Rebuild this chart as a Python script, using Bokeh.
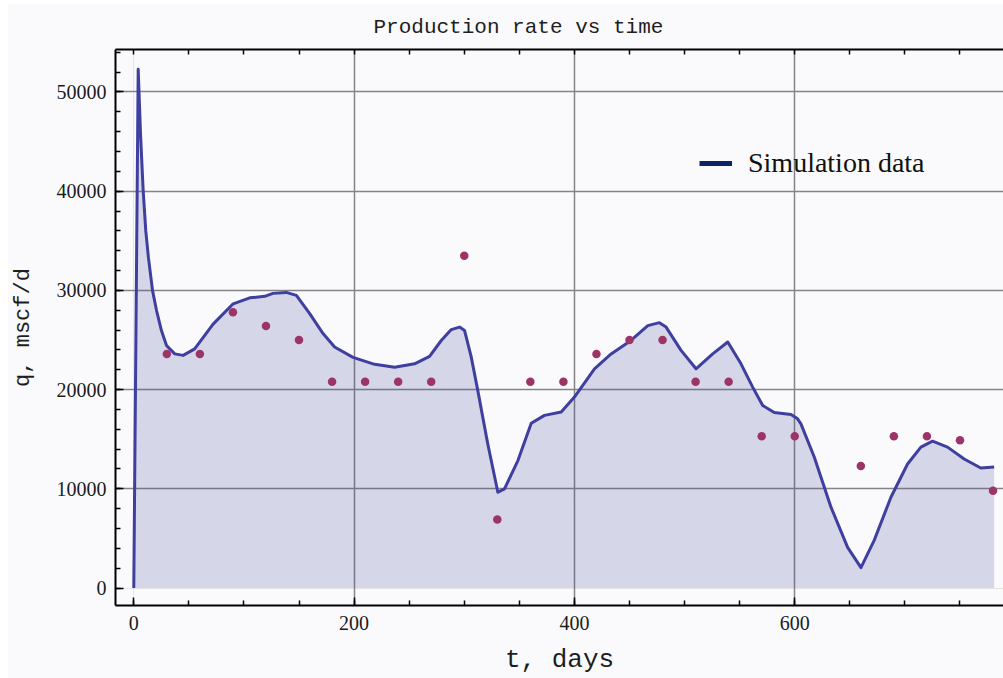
from bokeh.plotting import figure
from bokeh.models import (ColumnDataSource, LinearAxis, SingleIntervalTicker, FixedTicker,
                          Grid, Legend, LegendItem, Range1d, Spacer)
from bokeh.layouts import column, row
from bokeh.embed import file_html
from bokeh.resources import INLINE

# Simulated production rate (days, mscf/d)
sim_t = [0, 4.0, 6.1, 8.5, 10.9, 13.3, 17.0, 20.6, 25.1, 29.7, 37.2, 44.8, 55.3, 72.0, 90.2,
         105.3, 118.9, 126.3, 138.3, 147.6, 159.7, 171.8, 182.3, 199.0, 218.6, 236.8,
         254.9, 268.5, 279.1, 288.2, 295.7, 300.3, 306.3, 312.3, 321.3, 330.5, 336.5,
         348.7, 360.8, 372.8, 388.0, 400.0, 418.2, 433.3, 451.3, 466.6, 477.1, 483.2,
         496.8, 510.4, 525.5, 539.2, 551.2, 561.8, 570.9, 581.4, 596.6, 602.6, 605.6,
         617.7, 632.9, 648.0, 660.1, 672.1, 687.3, 702.4, 714.5, 725.1, 738.7, 753.8,
         768.9, 781.0]
sim_q = [0, 52300, 45800, 40100, 36000, 33300, 30000, 28000, 25950, 24450, 23600, 23450,
         24100, 26600, 28650, 29250, 29400, 29700, 29800, 29500, 27650, 25650, 24300,
         23250, 22550, 22250, 22600, 23350, 24950, 26050, 26300, 25950, 23300, 19900,
         14550, 9650, 10000, 12850, 16600, 17400, 17750, 19250, 22100, 23600, 24950,
         26450, 26750, 26300, 23950, 22100, 23600, 24800, 22600, 20250, 18400, 17700,
         17500, 17050, 16550, 13200, 8150, 4100, 2050, 4800, 9150, 12500, 14200, 14800,
         14200, 13000, 12100, 12200]

# Measured production rate (days, mscf/d)
obs_t = [30, 60, 90, 120, 150, 180, 210, 240, 270, 300, 330, 360, 390, 420, 450, 480,
         510, 540, 570, 600, 660, 690, 720, 750, 780]
obs_q = [23600, 23600, 27800, 26400, 25000, 20800, 20800, 20800, 20800, 33500, 6900,
         20800, 20800, 23600, 25000, 25000, 20800, 20800, 15300, 15300, 12300, 15300,
         15300, 14900, 9800]

x_interval, x_minor_step = 200, 50
y_interval = 10000
x_grid_lines = [200, 400, 600]
y_grid_lines = [10000, 20000, 30000, 40000, 50000]

BG = "#fafafc"
LINE = "#3f3f9f"
DOTS = "#9c3468"

p = figure(width=996, height=675, output_backend="svg", toolbar_location=None,
           title="Production rate vs time",
           x_range=Range1d(-16.6, 789.5), y_range=Range1d(-1764, 54284),
           x_axis_location=None, y_axis_location=None,
           min_border_left=107, min_border_right=0, min_border_top=30, min_border_bottom=73,
           background_fill_color=BG, border_fill_color=BG, outline_line_color=None)

p.title.text_font = "Liberation Mono"
p.title.text_font_size = "21px"
p.title.text_font_style = "normal"
p.title.text_color = "#1e1e1e"
p.title.align = "left"
p.title.offset = 258
p.title.standoff = 21

xt = SingleIntervalTicker(interval=x_interval, num_minor_ticks=x_interval // x_minor_step)
yt = SingleIntervalTicker(interval=y_interval, num_minor_ticks=5)
# top frame edge: tick marks only (major ticks kept outside the visible range, so no labels)
top_ticks = FixedTicker(ticks=[-10 * x_interval],
                        minor_ticks=list(range(0, 800, x_minor_step)))

xaxis = LinearAxis(ticker=xt, axis_label="t, days")
yaxis = LinearAxis(ticker=yt, axis_label="q, mscf/d")
top_axis = LinearAxis(ticker=top_ticks)

for ax in (xaxis, yaxis, top_axis):
    ax.axis_line_color = "black"
    ax.axis_line_width = 2
    ax.major_tick_line_color = "black"
    ax.major_tick_line_width = 1.5
    ax.minor_tick_line_color = "black"
    ax.minor_tick_line_width = 1.5
    ax.major_tick_in = 8
    ax.major_tick_out = 0
    ax.minor_tick_in = 5
    ax.minor_tick_out = 0
    ax.major_label_text_font = "Liberation Serif"
    ax.major_label_text_font_size = "20px"
    ax.major_label_text_color = "#1a1a1a"
    ax.axis_label_text_font = "Liberation Mono"
    ax.axis_label_text_font_style = "normal"
    ax.axis_label_text_color = "#1e1e1e"

xaxis.major_label_standoff = 10
xaxis.axis_label_text_font_size = "26px"
xaxis.axis_label_standoff = 12
yaxis.major_label_standoff = 9
yaxis.axis_label_text_font_size = "22px"
yaxis.axis_label_standoff = 18
top_axis.major_label_standoff = 0

p.add_layout(xaxis, "below")
p.add_layout(yaxis, "left")
p.add_layout(top_axis, "above")

for dim, ticks in ((0, x_grid_lines), (1, y_grid_lines)):
    p.add_layout(Grid(dimension=dim, ticker=FixedTicker(ticks=ticks),
                      grid_line_color="#858585", grid_line_width=1.5))

src = ColumnDataSource(dict(t=sim_t, q=sim_q, base=[0] * len(sim_t)))
p.varea(x="t", y1="base", y2="q", source=src, fill_color="#3d3d99", fill_alpha=0.19)
p.line("t", "q", source=src, line_color=LINE, line_width=3, line_join="round")
p.scatter(obs_t, obs_q, size=8.5, fill_color=DOTS, line_color=None)

# legend key: the same series on a separate, off-screen y range, so only its swatch shows
p.extra_y_ranges = {"key": Range1d(1e6, 2e6)}
key = p.line("t", "q", source=src, y_range_name="key", line_color="#0c2466", line_width=5)
legend = Legend(items=[LegendItem(label="Simulation data", renderers=[key])],
                location=(584, 426), border_line_color=None, background_fill_alpha=0,
                padding=0, margin=0, glyph_width=33, glyph_height=30, label_height=30,
                label_standoff=16, label_text_font="Liberation Serif",
                label_text_font_size="28px", label_text_color="#111111")
p.add_layout(legend, "center")

page = column(Spacer(width=1003, height=3), row(Spacer(width=7, height=675), p))

open("out.html", "w").write(file_html(page, INLINE))
